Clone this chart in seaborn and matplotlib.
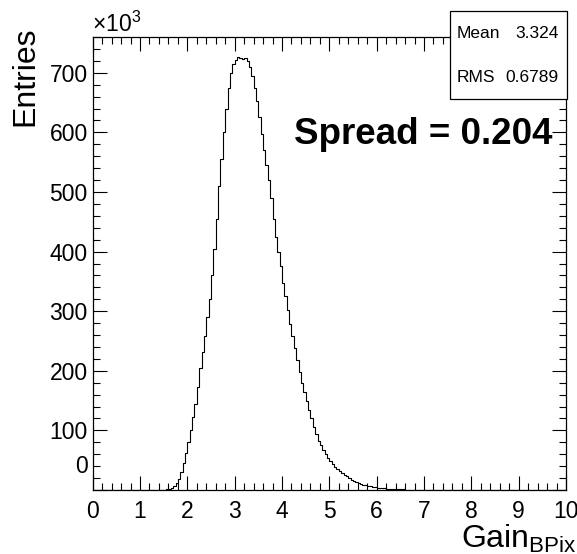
import numpy as np
import matplotlib
matplotlib.use("Agg")
import matplotlib.pyplot as plt
import matplotlib.patches as mpatches
import matplotlib.transforms as mtransforms
from matplotlib.ticker import MultipleLocator
import seaborn as sns

# ---------------- data (entries in units of 10^3 per 0.05-wide bin) ----------------
bin_low_edges = np.round(np.arange(1.50, 6.65, 0.05), 2)
entries_k = [
    0, 1, 2, 4, 7, 11, 18, 30, 45, 62,            # 1.50 - 1.95
    80, 100, 122, 145, 172, 205, 232, 258, 290, 320,  # 2.00 - 2.45
    360, 405, 455, 510, 555, 600, 640, 675, 700, 715,  # 2.50 - 2.95
    722, 726, 725, 723, 725, 720, 710, 695, 675, 652,  # 3.00 - 3.45
    625, 598, 570, 545, 520, 490, 455, 425, 400, 375,  # 3.50 - 3.95
    348, 325, 302, 278, 258, 238, 218, 198, 180, 165,  # 4.00 - 4.45
    150, 135, 120, 106, 94, 83, 75, 67, 60, 54,        # 4.50 - 4.95
    48, 43, 39, 35, 32, 29, 26, 23, 20, 17,            # 5.00 - 5.45
    15, 13, 11, 10, 9, 8, 7, 6, 5, 4.5,                # 5.50 - 5.95
    4, 3.5, 3, 3, 2.5, 2.5, 2, 2, 2, 2,                # 6.00 - 6.45
    1.5, 1.5, 0.5,                                     # 6.50 - 6.60
]
bin_width = 0.05
stat_labels = ["Mean", "RMS"]
stat_values = ["3.324", "0.6789"]
spread_text = "Spread = 0.204"
x_ticks = list(range(0, 11))
y_ticks = [0, 100, 200, 300, 400, 500, 600, 700]

bin_centers = bin_low_edges + bin_width / 2

# ---------------- style ----------------
sns.set_style("white")
plt.rcParams["font.family"] = ["Liberation Sans", "DejaVu Sans"]
plt.rcParams["mathtext.fontset"] = "custom"
plt.rcParams["mathtext.rm"] = "Liberation Sans"
plt.rcParams["mathtext.it"] = "Liberation Sans"
plt.rcParams["text.color"] = "black"
plt.rcParams["xtick.color"] = "black"
plt.rcParams["ytick.color"] = "black"

W, H = 577, 554
fig = plt.figure(figsize=(W / 100, H / 100), dpi=100)
ax = fig.add_axes([92.7 / W, 1 - 490 / H, (566 - 92.7) / W, (490 - 37) / H])

sns.histplot(x=bin_centers, weights=entries_k, binwidth=bin_width, binrange=(0, 10),
             element="step", fill=False, color="black", linewidth=0.8, ax=ax)

ax.set_xlim(0, 10)
ax.set_ylim(0, 760)
ax.set_xlabel("")
ax.set_ylabel("")
ax.set_xticks(x_ticks)
ax.set_yticks(y_ticks)
ax.xaxis.set_minor_locator(MultipleLocator(0.2))
ax.yaxis.set_minor_locator(MultipleLocator(20))
ax.tick_params(which="both", direction="in", top=True, right=True, bottom=True, left=True,
               colors="black", labelsize=16.5, width=0.8)
ax.tick_params(which="major", length=10)
ax.tick_params(which="minor", length=5)
ax.tick_params(axis="x", pad=7)
ax.tick_params(axis="y", pad=3.5)
for s in ax.spines.values():
    s.set_color("black")
    s.set_linewidth(0.9)

# shift the y "0" label up like ROOT does
fig.canvas.draw()
ylab0 = ax.get_yticklabels()[0]
ylab0.set_transform(ylab0.get_transform() + mtransforms.ScaledTranslation(0, 26 / 100, fig.dpi_scale_trans))

# axis titles
fig.text(25 / W, 1 - 27 / H, "Entries", rotation=90, ha="center", va="top", fontsize=23)
fig.text(1.0, 1 - 548 / H, r"Gain$_{\mathrm{BPix}}$", ha="right", va="baseline", fontsize=23)
fig.text(92 / W, 1 - 32 / H, r"$\times$10$^{3}$", ha="left", va="baseline", fontsize=16.5)

# spread label
fig.text(553 / W, 1 - 135 / H, spread_text, ha="right", va="center", fontsize=26.5,
         fontweight="bold")

# stats box
box = mpatches.Rectangle((450 / W, 1 - 99 / H), (567 - 450) / W, (99 - 11) / H,
                         transform=fig.transFigure, facecolor="white", edgecolor="black",
                         linewidth=0.9, zorder=5)
fig.patches.append(box)
for i, (lab, val) in enumerate(zip(stat_labels, stat_values)):
    yc = 1 - (34 + 43 * i) / H
    fig.text(457 / W, yc, lab, ha="left", va="center", fontsize=12.5, zorder=6)
    fig.text(559 / W, yc, val, ha="right", va="center", fontsize=12.5, zorder=6)

fig.savefig("out.png", dpi=100)
